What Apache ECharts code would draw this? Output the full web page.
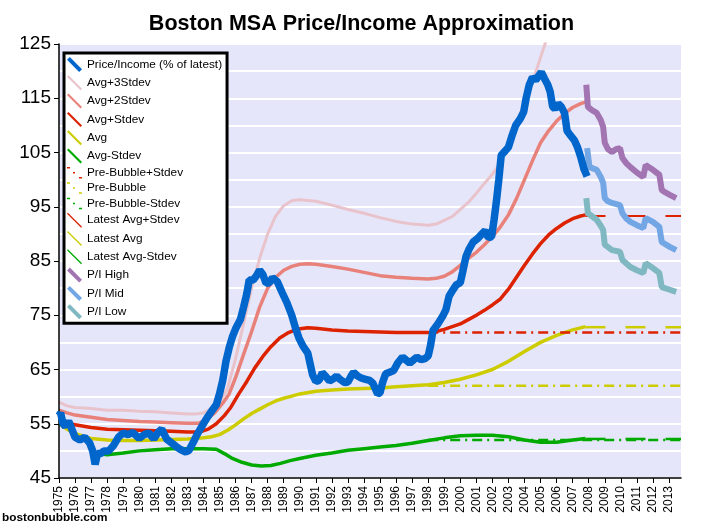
<!DOCTYPE html>
<html><head><meta charset="utf-8">
<script src="https://cdn.jsdelivr.net/npm/echarts@6/dist/echarts.min.js"></script>
<style>html,body{margin:0;padding:0;background:#fff}#c{width:723px;height:531px}</style>
</head><body><div id="c"></div>
<script>
// ---- data (year, value) ----
const yearTicks = [];
for (let y = 1975; y <= 2013; y++) yearTicks.push(y);
const yTickLabels = [45, 55, 65, 75, 85, 95, 105, 115, 125];

const priceIncome = [[1975.0,56.5],[1975.1,57],[1975.25,55],[1975.4,54.5],[1975.6,55.5],[1975.8,54],[1976.0,52.5],[1976.3,52],[1976.6,52.5],[1976.9,51.5],[1977.1,50],[1977.25,47.5],[1977.4,49.5],[1977.6,49.5],[1977.8,50],[1978.1,50],[1978.4,51],[1978.7,52.5],[1979.0,53.3],[1979.3,53],[1979.6,53.4],[1980.0,52.3],[1980.3,53],[1980.6,53.3],[1980.9,52.2],[1981.2,53.5],[1981.4,54],[1981.7,52.2],[1982.0,51.5],[1982.3,50.8],[1982.6,50.2],[1982.9,49.8],[1983.1,50.1],[1983.35,51.5],[1983.6,53],[1983.9,54.5],[1984.2,56],[1984.5,57.3],[1984.8,58.5],[1985.0,60.5],[1985.2,63],[1985.4,66.5],[1985.6,69],[1985.8,71],[1986.0,72.5],[1986.3,74.2],[1986.5,76.5],[1986.7,79],[1986.85,81.5],[1987.1,81.5],[1987.3,82.3],[1987.5,83.3],[1987.7,82.5],[1987.9,80.9],[1988.1,81],[1988.3,81.9],[1988.6,81.2],[1988.9,79.2],[1989.2,77.3],[1989.5,75],[1989.75,72.5],[1989.95,70.8],[1990.2,69.3],[1990.5,68],[1990.65,66],[1990.8,64],[1991.0,62.8],[1991.2,63],[1991.4,64.4],[1991.6,63.8],[1991.85,62.9],[1992.1,63.3],[1992.3,63.8],[1992.5,63.2],[1992.8,62.6],[1993.0,62.7],[1993.2,63.8],[1993.35,64.5],[1993.6,63.8],[1993.85,63.4],[1994.1,63.2],[1994.35,63],[1994.55,62.5],[1994.7,61.5],[1994.85,60.5],[1995.0,60.7],[1995.15,62.5],[1995.35,64.2],[1995.6,64.5],[1995.85,64.8],[1996.1,66.2],[1996.4,67.3],[1996.6,66.8],[1996.85,66.2],[1997.1,66.8],[1997.3,67.3],[1997.55,66.8],[1997.8,67],[1998.0,67.5],[1998.15,69.5],[1998.3,72.2],[1998.6,73.4],[1998.9,74.8],[1999.1,76],[1999.3,78.5],[1999.5,79.5],[1999.75,80.6],[2000.0,81],[2000.15,83],[2000.35,85.8],[2000.55,87.2],[2000.8,88.5],[2001.1,89.2],[2001.35,90],[2001.55,90.6],[2001.75,89.3],[2001.95,89.5],[2002.1,92.5],[2002.25,96],[2002.4,100],[2002.55,104.5],[2002.8,105.3],[2003.0,106],[2003.2,107.9],[2003.45,110],[2003.75,111.3],[2003.95,112.5],[2004.1,115],[2004.3,117.5],[2004.5,118.9],[2004.7,118.3],[2004.85,119],[2005.05,119.8],[2005.25,118.6],[2005.45,117.5],[2005.6,116.2],[2005.75,113.5],[2005.9,113],[2006.1,114],[2006.3,113.4],[2006.5,112.2],[2006.65,109],[2006.85,108.2],[2007.1,107.3],[2007.3,106],[2007.5,104.2],[2007.7,102],[2007.9,100.6]];

const avgPlus3 = [[1975,59],[1975.5,58.3],[1976,58],[1977,57.8],[1978,57.5],[1979,57.5],[1980,57.3],[1981,57.2],[1982,57],[1983,56.8],[1983.5,56.8],[1984,57],[1984.5,57.8],[1985,59],[1985.5,61.5],[1986,67],[1986.5,73.5],[1987,80],[1987.5,85.5],[1988,90],[1988.5,93.3],[1989,95.2],[1989.5,96.1],[1990,96.3],[1991,96],[1992,95.3],[1993,94.5],[1994,93.8],[1995,93],[1996,92.3],[1997,91.8],[1998,91.6],[1998.5,91.8],[1999,92.5],[1999.5,93.2],[2000,94.5],[2000.5,95.8],[2001,97.5],[2001.5,99.3],[2002,101],[2002.5,103],[2003,106.5],[2003.5,110.5],[2004,114],[2004.5,118],[2005,122.5],[2005.5,127]];

const avgPlus2 = [[1975,57.5],[1975.5,57],[1976,56.6],[1977,56.2],[1978,55.8],[1979,55.6],[1980,55.4],[1981,55.3],[1982,55.2],[1983,55.1],[1983.7,55.1],[1984.2,55.8],[1984.7,57],[1985.2,58.8],[1985.6,60.5],[1986,63.5],[1986.5,67.8],[1987,72],[1987.5,76.5],[1988,80],[1988.5,82],[1989,83.3],[1989.5,84],[1990,84.4],[1990.5,84.5],[1991,84.4],[1992,84],[1993,83.5],[1994,82.9],[1995,82.3],[1996,82],[1997,81.8],[1998,81.7],[1998.5,81.8],[1999,82.2],[1999.5,83],[2000,84.2],[2000.5,85.5],[2001,86.6],[2001.5,88],[2002,89.5],[2002.5,91.3],[2003,93.5],[2003.5,96.5],[2004,100],[2004.5,103.5],[2005,106.8],[2005.5,109],[2006,110.8],[2006.5,112.2],[2007,113.3],[2007.5,114],[2007.8,114.3]];

const avgPlus1 = [[1975,56],[1975.5,55.3],[1976,54.8],[1977,54.3],[1978,54],[1979,53.9],[1980,53.8],[1981,53.7],[1982,53.6],[1983,53.5],[1983.8,53.5],[1984.3,54],[1984.8,55],[1985.3,56.5],[1985.7,58],[1986.2,60.5],[1986.7,62.8],[1987.2,65.3],[1987.7,67.4],[1988.2,69.2],[1988.75,70.8],[1989.3,71.8],[1989.8,72.4],[1990.5,72.7],[1991,72.6],[1992,72.3],[1993,72.1],[1994,72],[1995,71.9],[1996,71.8],[1997,71.8],[1998,71.8],[1998.5,72],[1999,72.4],[1999.5,72.9],[2000,73.4],[2000.5,74.2],[2001,75],[2001.5,75.9],[2002,76.9],[2002.5,78],[2003,79.8],[2003.5,82],[2004,84.2],[2004.5,86.3],[2005,88.2],[2005.5,89.8],[2006,91],[2006.5,92],[2007,92.8],[2007.5,93.3],[2007.8,93.5]];

const avgLine = [[1975,55],[1975.5,54],[1976,53.2],[1976.5,52.7],[1977,52.3],[1978,52],[1979,51.9],[1980,51.9],[1981,52],[1982,52.1],[1983,52.2],[1984,52.4],[1984.5,52.6],[1985,53],[1985.5,53.8],[1986,54.8],[1986.5,55.9],[1987,56.9],[1987.5,57.7],[1988,58.5],[1988.5,59.2],[1989,59.7],[1989.5,60.1],[1990,60.5],[1991,61],[1992,61.2],[1993,61.4],[1994,61.5],[1995,61.6],[1996,61.8],[1997,62],[1998,62.2],[1999,62.6],[2000,63.2],[2001,64],[2002,65],[2003,66.5],[2004,68.3],[2005,70],[2006,71.3],[2007,72.3],[2007.8,72.9]];

const avgMinus1 = [[1977.4,49.8],[1977.7,49.4],[1978,49.3],[1979,49.6],[1980,50],[1981,50.2],[1982,50.4],[1983,50.4],[1984,50.4],[1984.8,50.3],[1985.3,49.5],[1985.8,48.6],[1986.4,47.9],[1987,47.4],[1987.6,47.2],[1988.2,47.3],[1988.8,47.7],[1989.4,48.2],[1990,48.6],[1991,49.2],[1992,49.6],[1993,50.1],[1994,50.4],[1995,50.7],[1996,51],[1997,51.4],[1998,51.9],[1999,52.4],[2000,52.8],[2001,52.9],[2002,52.9],[2003,52.6],[2004,52],[2005,51.6],[2006,51.6],[2007,52],[2007.8,52.3]];

const preBubblePlus = [[1998,71.8],[2013.75,71.8]];
const preBubble = [[1998,62.0],[2013.75,62.0]];
const preBubbleMinus = [[1998,52.0],[2013.75,52.0]];

const latestPlus = [[2007.8,93.3],[2013.75,93.3]];
const latestAvg = [[2007.8,72.8],[2013.75,72.8]];
const latestMinus = [[2007.8,52.2],[2013.75,52.2]];

const piHigh = [[2007.85,117.5],[2007.95,113.4],[2008.2,112.8],[2008.5,112.3],[2008.75,111],[2008.9,109.7],[2009.0,106.8],[2009.2,105.6],[2009.45,105.1],[2009.7,105.6],[2009.95,105.8],[2010.1,104],[2010.35,103],[2010.6,102.3],[2011.0,101.3],[2011.4,100.5],[2011.55,102.7],[2011.8,102.2],[2012.0,101.8],[2012.4,100.9],[2012.55,98.1],[2012.8,97.6],[2013.05,97.2],[2013.45,96.6]];
const piMid = [[2007.9,105.8],[2008.05,102.3],[2008.5,101.8],[2008.75,100.5],[2008.9,99.4],[2009.0,96.6],[2009.2,96],[2009.45,95.7],[2009.95,95.3],[2010.1,93.8],[2010.35,92.8],[2010.6,92.2],[2011.0,91.6],[2011.4,91.1],[2011.55,92.9],[2012.0,92.2],[2012.4,91.3],[2012.55,88.5],[2013.05,87.6],[2013.45,87]];
const piLow = [[2007.85,96.6],[2007.95,93.8],[2008.5,92.6],[2008.75,91.5],[2008.9,90.7],[2009.0,88],[2009.45,87],[2009.95,86.7],[2010.1,85.2],[2010.6,83.9],[2011.0,83.3],[2011.4,82.8],[2011.55,84.6],[2012.0,83.7],[2012.4,82.8],[2012.55,80.2],[2013.05,79.7],[2013.45,79.3]];

// ---- styling ----
const ICON_THICK = 'path://M0,3L3,0L16,13L13,16Z';
const ICON_MED = 'path://M0,1.6L1.6,0L16,14.4L14.4,16Z';
const ICON_THIN = 'path://M0,1L1,0L16,15L15,16Z';
const ICON_DASH = 'path://M0,0L3,0L3,1.5L0,1.5Z M6,5L8,5L8,6.5L6,6.5Z M12,10L15,10L15,11.5L12,11.5Z';
const FONT = '"Liberation Sans", Arial, sans-serif';

function line(name, data, color, width, extra) {
  return Object.assign({
    name, type: 'line', data, color, showSymbol: false, symbol: 'none',
    lineStyle: { color, width }, silent: true, animation: false, z: 2
  }, extra || {});
}
const dashDot = [10, 5, 2, 5];
const longDash = [20, 20];

const series = [
  line('Avg+3Stdev', avgPlus3, '#E9C3CB', 3),
  line('Avg+2Stdev', avgPlus2, '#E8817A', 3.5),
  line('Avg+Stdev', avgPlus1, '#DD2200', 3.5),
  line('Avg', avgLine, '#CCCC00', 3.5),
  line('Avg-Stdev', avgMinus1, '#00AA00', 3.5),
  line('Pre-Bubble+Stdev', preBubblePlus, '#DD2200', 2.5, {lineStyle:{color:'#DD2200',width:2.5,type:dashDot}}),
  line('Pre-Bubble', preBubble, '#CCCC00', 2.5, {lineStyle:{color:'#CCCC00',width:2.5,type:dashDot}}),
  line('Pre-Bubble-Stdev', preBubbleMinus, '#00AA00', 2.5, {lineStyle:{color:'#00AA00',width:2.5,type:dashDot}}),
  line('Latest Avg+Stdev', latestPlus, '#DD2200', 2, {lineStyle:{color:'#DD2200',width:2,type:longDash}}),
  line('Latest Avg', latestAvg, '#CCCC00', 2.5, {lineStyle:{color:'#CCCC00',width:2.5,type:longDash}}),
  line('Latest Avg-Stdev', latestMinus, '#00AA00', 2.5, {lineStyle:{color:'#00AA00',width:2.5,type:longDash}}),
  line('P/I High', piHigh, '#A274B2', 6, {z:3}),
  line('P/I Mid', piMid, '#72A6E4', 6, {z:3}),
  line('P/I Low', piLow, '#80B8C2', 6, {z:3}),
  line('Price/Income (% of latest)', priceIncome, '#0066CC', 7.5, {z:5})
];

const legendData = [
  {name:'Price/Income (% of latest)', icon: ICON_THICK},
  {name:'Avg+3Stdev', icon: ICON_MED},
  {name:'Avg+2Stdev', icon: ICON_MED},
  {name:'Avg+Stdev', icon: ICON_MED},
  {name:'Avg', icon: ICON_MED},
  {name:'Avg-Stdev', icon: ICON_MED},
  {name:'Pre-Bubble+Stdev', icon: ICON_DASH},
  {name:'Pre-Bubble', icon: ICON_DASH},
  {name:'Pre-Bubble-Stdev', icon: ICON_DASH},
  {name:'Latest Avg+Stdev', icon: ICON_THIN},
  {name:'Latest Avg', icon: ICON_THIN},
  {name:'Latest Avg-Stdev', icon: ICON_THIN},
  {name:'P/I High', icon: ICON_THICK},
  {name:'P/I Mid', icon: ICON_THICK},
  {name:'P/I Low', icon: ICON_THICK}
];

const chart = echarts.init(document.getElementById('c'), null, {renderer:'canvas'});
chart.setOption({
  animation: false,
  backgroundColor: '#ffffff',
  title: {
    text: 'Boston MSA Price/Income Approximation',
    left: 'center', top: 8,
    textStyle: { fontFamily: FONT, fontWeight: 'bold', fontSize: 21.5, color: '#000' }
  },
  graphic: [{
    type: 'text', left: 2, top: 512,
    style: { text: 'bostonbubble.com', fontFamily: FONT, fontWeight: 'bold', fontSize: 11.8, fill: '#000' }
  }],
  grid: { left: 59, right: 42, top: 44, bottom: 53, show: true, backgroundColor: '#E6E6FA', borderWidth: 0 },
  legend: {
    orient: 'vertical', left: 64, top: 53,
    itemWidth: 15, itemHeight: 15, itemGap: 3.3,
    padding: [4, 5, 4, 3],
    backgroundColor: '#ffffff', borderColor: '#000', borderWidth: 3,
    selectedMode: false,
    textStyle: { fontFamily: FONT, fontSize: 11.8, color: '#000' },
    data: legendData
  },
  xAxis: {
    type: 'value', min: 1975, max: 2013.75,
    axisLine: { show: true, lineStyle: { color: '#000', width: 1.5 } },
    axisTick: { show: true, length: 5, customValues: yearTicks, lineStyle: { color: '#000' } },
    axisLabel: { customValues: yearTicks, rotate: 90, margin: 8, fontFamily: FONT, fontSize: 12, color: '#000',
      formatter: v => String(v) },
    splitLine: { show: false }
  },
  yAxis: [{
    type: 'value', min: 45, max: 125, interval: 5,
    axisLine: { show: true, lineStyle: { color: '#000', width: 1.5 } },
    axisTick: { show: true, length: 5, customValues: yTickLabels, lineStyle: { color: '#000' } },
    axisLabel: { customValues: yTickLabels, margin: 8, fontFamily: FONT, fontSize: 19, color: '#000' },
    splitLine: { show: false },
    z: 3
  }, {
    type: 'value', min: 45, max: 125, interval: 5, position: 'left',
    axisLine: { show: false }, axisTick: { show: false }, axisLabel: { show: false },
    splitLine: { show: true, lineStyle: { color: '#ffffff', width: 2 } }
  }],
  series
});
</script>
</body></html>
